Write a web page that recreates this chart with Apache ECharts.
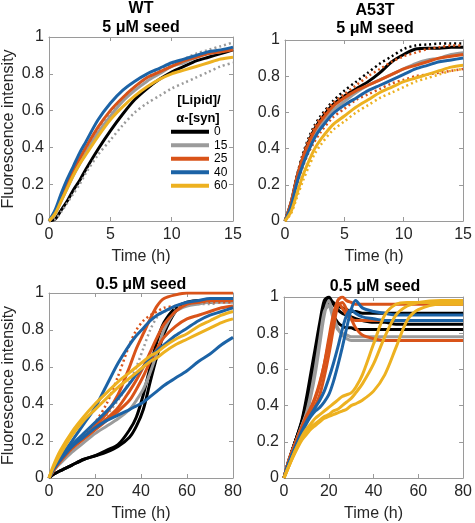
<!DOCTYPE html>
<html><head><meta charset="utf-8">
<script src="https://cdn.jsdelivr.net/npm/echarts@6/dist/echarts.min.js"></script>
<style>html,body{margin:0;padding:0;background:#fff}#c{width:475px;height:523px}</style>
</head><body><div id="c"></div>
<script>
// ---- categories / tick info ----
const legendNames = ['0', '15', '25', '40', '60'];
const yTicks = [0, 0.2, 0.4, 0.6, 0.8, 1];
const xTicksTop = [0, 5, 10, 15];
const xTicksBottom = [0, 20, 40, 60, 80];

// ---- WT, 5 uM seed (time in h) ----
const tTop = [0,0.5,1,1.5,2,2.5,3,4,5,6,7,8,9,10,11,12,13,14,15];
const wt5_0   = [0,0.01,0.06,0.11,0.17,0.22,0.28,0.39,0.49,0.58,0.66,0.72,0.77,0.81,0.84,0.87,0.89,0.91,0.93];
const wt5_15a = [0,0.04,0.11,0.18,0.25,0.31,0.37,0.48,0.57,0.65,0.71,0.76,0.80,0.84,0.86,0.89,0.91,0.92,0.94];
const wt5_15b = [0,0.04,0.12,0.20,0.27,0.33,0.39,0.50,0.59,0.67,0.73,0.78,0.82,0.85,0.88,0.91,0.93,0.95,0.97];
const wt5_15c = [0,0.01,0.05,0.10,0.15,0.20,0.26,0.36,0.44,0.52,0.59,0.64,0.68,0.72,0.75,0.78,0.81,0.84,0.86];
const wt5_25  = [0,0.05,0.13,0.21,0.28,0.34,0.40,0.51,0.60,0.67,0.73,0.78,0.81,0.84,0.87,0.89,0.91,0.92,0.93];
const wt5_40  = [0,0.06,0.15,0.23,0.30,0.37,0.43,0.55,0.64,0.71,0.76,0.80,0.83,0.86,0.88,0.90,0.92,0.93,0.945];
const wt5_60  = [0,0.04,0.11,0.18,0.25,0.31,0.36,0.46,0.55,0.62,0.68,0.73,0.77,0.80,0.82,0.84,0.86,0.88,0.89];

// ---- A53T, 5 uM seed ----
const a5_0    = [0,0.10,0.24,0.35,0.44,0.51,0.56,0.64,0.69,0.73,0.77,0.82,0.88,0.92,0.95,0.955,0.955,0.96,0.96];
const a5_0d   = [0,0.10,0.25,0.37,0.46,0.53,0.58,0.66,0.72,0.77,0.82,0.87,0.91,0.95,0.97,0.975,0.98,0.98,0.98];
const a5_15   = [0,0.09,0.22,0.33,0.41,0.48,0.53,0.61,0.66,0.71,0.75,0.78,0.81,0.84,0.87,0.89,0.90,0.92,0.93];
const a5_25   = [0,0.10,0.24,0.35,0.43,0.50,0.55,0.63,0.68,0.72,0.75,0.78,0.81,0.84,0.86,0.88,0.90,0.91,0.92];
const a5_25d1 = [0,0.10,0.24,0.36,0.45,0.52,0.57,0.65,0.70,0.75,0.80,0.84,0.88,0.91,0.93,0.95,0.96,0.97,0.97];
const a5_25d2 = [0,0.08,0.20,0.30,0.38,0.44,0.49,0.57,0.62,0.67,0.70,0.73,0.76,0.78,0.80,0.81,0.82,0.83,0.84];
const a5_40   = [0,0.08,0.21,0.31,0.39,0.46,0.51,0.59,0.64,0.68,0.72,0.75,0.78,0.81,0.84,0.86,0.88,0.89,0.90];
const a5_60   = [0,0.05,0.15,0.25,0.33,0.40,0.45,0.53,0.58,0.63,0.67,0.71,0.74,0.77,0.79,0.81,0.83,0.85,0.86];
const a5_60d  = [0,0.04,0.13,0.22,0.30,0.37,0.42,0.50,0.55,0.60,0.64,0.68,0.71,0.74,0.77,0.79,0.81,0.83,0.84];

// ---- WT, 0.5 uM seed ----
const tWT05 = [0,2,5,10,15,20,25,30,35,38,41,44,47,50,55,60,65,70,75,80];
const w05_0a  = [0,0.02,0.04,0.07,0.10,0.12,0.15,0.18,0.26,0.33,0.45,0.60,0.74,0.84,0.92,0.95,0.96,0.96,0.97,0.97];
const w05_0b  = [0,0.02,0.04,0.07,0.10,0.12,0.14,0.17,0.22,0.28,0.37,0.52,0.66,0.78,0.90,0.94,0.95,0.95,0.96,0.96];
const w05_15a = [0,0.04,0.08,0.14,0.19,0.24,0.28,0.32,0.37,0.42,0.48,0.57,0.68,0.80,0.90,0.93,0.94,0.95,0.95,0.95];
const w05_15b = [0,0.04,0.09,0.16,0.22,0.28,0.34,0.42,0.52,0.60,0.70,0.80,0.87,0.90,0.92,0.93,0.94,0.94,0.95,0.95];
const w05_25a = [0,0.05,0.10,0.17,0.22,0.28,0.35,0.45,0.60,0.70,0.78,0.86,0.93,0.97,0.99,1.00,1.00,1.00,1.00,1.00];
const w05_25b = [0,0.05,0.10,0.17,0.22,0.27,0.32,0.38,0.47,0.53,0.60,0.68,0.76,0.83,0.90,0.94,0.95,0.96,0.96,0.96];
const w05_25c = [0,0.04,0.09,0.16,0.21,0.26,0.31,0.36,0.42,0.48,0.55,0.63,0.70,0.76,0.82,0.86,0.88,0.90,0.92,0.93];
const w05_25d = [0,0.05,0.10,0.17,0.23,0.30,0.40,0.55,0.72,0.80,0.85,0.88,0.90,0.92,0.93,0.94,0.95,0.95,0.95,0.95];
const w05_40a = [0,0.05,0.10,0.17,0.22,0.27,0.31,0.34,0.37,0.39,0.41,0.44,0.47,0.50,0.54,0.58,0.63,0.67,0.72,0.76];
const w05_40b = [0,0.05,0.11,0.20,0.29,0.38,0.50,0.62,0.72,0.77,0.81,0.85,0.88,0.90,0.93,0.95,0.96,0.97,0.97,0.97];
const w05_40c = [0,0.05,0.10,0.18,0.24,0.30,0.36,0.43,0.51,0.56,0.60,0.65,0.69,0.72,0.77,0.81,0.85,0.88,0.90,0.92];
const w05_60a = [0,0.07,0.15,0.25,0.33,0.40,0.46,0.52,0.57,0.60,0.63,0.66,0.68,0.71,0.75,0.78,0.82,0.85,0.88,0.90];
const w05_60b = [0,0.06,0.13,0.23,0.31,0.37,0.43,0.49,0.54,0.57,0.60,0.63,0.65,0.68,0.72,0.75,0.78,0.81,0.84,0.86];

// ---- A53T, 0.5 uM seed ----
const tA05 = [0,2,5,8,10,12,14,16,18,20,22,24,26,28,30,32,35,40,45,50,55,60,70,80];
const a05_0a  = [0,0.09,0.20,0.32,0.44,0.58,0.72,0.86,0.98,1.00,0.96,0.93,0.91,0.90,0.89,0.88,0.87,0.86,0.86,0.85,0.85,0.85,0.85,0.85];
const a05_0b  = [0,0.09,0.20,0.31,0.42,0.55,0.69,0.83,0.95,0.97,0.90,0.86,0.84,0.83,0.83,0.82,0.82,0.82,0.82,0.82,0.82,0.82,0.82,0.82];
const a05_0c  = [0,0.09,0.20,0.31,0.41,0.54,0.68,0.82,0.94,0.99,0.97,0.95,0.94,0.93,0.92,0.92,0.91,0.91,0.91,0.91,0.91,0.91,0.91,0.91];
const a05_15a = [0,0.09,0.19,0.29,0.35,0.45,0.58,0.74,0.90,0.98,0.90,0.83,0.79,0.77,0.76,0.76,0.76,0.76,0.76,0.76,0.76,0.76,0.76,0.76];
const a05_15b = [0,0.09,0.19,0.29,0.36,0.47,0.61,0.77,0.92,0.95,0.88,0.82,0.80,0.79,0.78,0.78,0.78,0.78,0.78,0.78,0.78,0.78,0.78,0.78];
const a05_25a = [0,0.09,0.19,0.28,0.33,0.36,0.40,0.46,0.56,0.68,0.82,0.95,0.97,0.93,0.88,0.83,0.79,0.77,0.76,0.76,0.76,0.76,0.76,0.76];
const a05_25b = [0,0.09,0.19,0.28,0.34,0.38,0.44,0.52,0.63,0.77,0.90,0.97,0.94,0.90,0.88,0.87,0.87,0.87,0.87,0.87,0.87,0.87,0.87,0.87];
const a05_25c = [0,0.09,0.19,0.28,0.34,0.39,0.45,0.53,0.63,0.75,0.88,0.98,1.00,0.98,0.97,0.96,0.96,0.96,0.96,0.96,0.96,0.96,0.96,0.96];
const a05_40a = [0,0.08,0.17,0.25,0.30,0.34,0.37,0.39,0.42,0.46,0.53,0.62,0.72,0.83,0.93,0.98,0.94,0.92,0.91,0.90,0.90,0.90,0.90,0.90];
const a05_40b = [0,0.08,0.17,0.26,0.31,0.35,0.39,0.43,0.48,0.55,0.63,0.72,0.82,0.90,0.93,0.91,0.89,0.88,0.87,0.87,0.87,0.87,0.87,0.87];
const a05_60a = [0,0.06,0.15,0.22,0.25,0.28,0.30,0.32,0.34,0.35,0.37,0.38,0.40,0.42,0.44,0.47,0.52,0.63,0.78,0.90,0.95,0.97,0.98,0.98];
const a05_60b = [0,0.06,0.14,0.21,0.24,0.27,0.29,0.31,0.33,0.34,0.35,0.36,0.37,0.38,0.40,0.41,0.43,0.48,0.57,0.72,0.87,0.93,0.96,0.96];
const a05_60c = [0,0.06,0.15,0.23,0.27,0.30,0.33,0.35,0.37,0.39,0.41,0.43,0.45,0.46,0.47,0.50,0.57,0.74,0.90,0.96,0.97,0.97,0.97,0.97];

// ---- styling ----
const FONT = '"Liberation Sans", Arial, sans-serif';
const COLORS = {'0':'#000000','15':'#9b9b9b','25':'#d95319','40':'#1c63a6','60':'#edb120'};
const AX = '#9a9a9a';
const TXT = '#262626';

// traces: [panel, legend name, times, values, dotted]
const traces = [
  [0,'0',tTop,wt5_0,false],[0,'15',tTop,wt5_15a,false],[0,'15',tTop,wt5_15b,true],[0,'15',tTop,wt5_15c,true],
  [0,'25',tTop,wt5_25,false],[0,'40',tTop,wt5_40,false],[0,'60',tTop,wt5_60,false],
  [1,'0',tTop,a5_0,false],[1,'0',tTop,a5_0d,true],[1,'15',tTop,a5_15,false],[1,'25',tTop,a5_25,false],
  [1,'25',tTop,a5_25d1,true],[1,'25',tTop,a5_25d2,true],[1,'40',tTop,a5_40,false],[1,'60',tTop,a5_60,false],[1,'60',tTop,a5_60d,true],
  [2,'0',tWT05,w05_0a,false],[2,'0',tWT05,w05_0b,false],[2,'15',tWT05,w05_15a,false],[2,'15',tWT05,w05_15b,true],
  [2,'25',tWT05,w05_25a,false],[2,'25',tWT05,w05_25b,false],[2,'25',tWT05,w05_25c,false],[2,'25',tWT05,w05_25d,true],
  [2,'40',tWT05,w05_40a,false],[2,'40',tWT05,w05_40b,false],[2,'40',tWT05,w05_40c,false],
  [2,'60',tWT05,w05_60a,false],[2,'60',tWT05,w05_60b,false],
  [3,'0',tA05,a05_0a,false],[3,'0',tA05,a05_0b,false],[3,'0',tA05,a05_0c,false],
  [3,'15',tA05,a05_15a,false],[3,'15',tA05,a05_15b,false],
  [3,'25',tA05,a05_25a,false],[3,'25',tA05,a05_25b,false],[3,'25',tA05,a05_25c,false],
  [3,'40',tA05,a05_40a,false],[3,'40',tA05,a05_40b,false],
  [3,'60',tA05,a05_60a,false],[3,'60',tA05,a05_60b,false],[3,'60',tA05,a05_60c,false]
];

const grids = [
  {left:49, top:37, width:184, height:184},
  {left:285, top:40, width:181, height:181},
  {left:49, top:293, width:184, height:185},
  {left:284, top:297, width:182, height:181}
];
const xMax = [15, 15, 80, 80];
const xInt = [xTicksTop[1]-xTicksTop[0], xTicksTop[1]-xTicksTop[0], xTicksBottom[1]-xTicksBottom[0], xTicksBottom[1]-xTicksBottom[0]];

const xAxis = [], yAxis = [];
grids.forEach((g, i) => {
  xAxis.push({gridIndex:i, type:'value', min:0, max:xMax[i], interval:xInt[i], position:'bottom',
    axisLine:{show:true, onZero:false, lineStyle:{color:AX, width:1}},
    axisTick:{show:true, inside:true, length:4, lineStyle:{color:AX}},
    axisLabel:{fontSize:16, color:TXT, margin:6, fontFamily:FONT, showMaxLabel:true, showMinLabel:true},
    splitLine:{show:false},
    name:'Time (h)', nameLocation:'middle', nameGap:28,
    nameTextStyle:{fontSize:16, color:TXT, fontFamily:FONT}});
  xAxis.push({gridIndex:i, type:'value', min:0, max:xMax[i], interval:xInt[i], position:'top',
    axisLine:{show:true, onZero:false, lineStyle:{color:AX, width:1}},
    axisTick:{show:true, inside:true, length:4, lineStyle:{color:AX}},
    axisLabel:{show:false}, splitLine:{show:false}});
  const yl = {gridIndex:i, type:'value', min:yTicks[0], max:yTicks[yTicks.length-1], interval:yTicks[1]-yTicks[0], position:'left',
    axisLine:{show:true, onZero:false, lineStyle:{color:AX, width:1}},
    axisTick:{show:true, inside:true, length:4, lineStyle:{color:AX}},
    axisLabel:{fontSize:16, color:TXT, margin:5, fontFamily:FONT},
    splitLine:{show:false}};
  if (i % 2 === 0) {
    Object.assign(yl, {name:'Fluorescence intensity', nameLocation:'middle', nameGap:32, nameRotate:90,
      nameTextStyle:{fontSize:16, color:TXT, fontFamily:FONT}});
  }
  yAxis.push(yl);
  yAxis.push({gridIndex:i, type:'value', min:0, max:1, interval:0.2, position:'right',
    axisLine:{show:true, onZero:false, lineStyle:{color:AX, width:1}},
    axisTick:{show:true, inside:true, length:4, lineStyle:{color:AX}},
    axisLabel:{show:false}, splitLine:{show:false}});
});

const series = traces.map(([p, name, t, v, dotted]) => ({
  type:'line', name:name, xAxisIndex:2*p, yAxisIndex:2*p,
  data:t.map((x, k) => [x, v[k]]),
  showSymbol:false, smooth:0.3, silent:true, animation:false,
  itemStyle:{color:COLORS[name]},
  lineStyle:{color:COLORS[name], width:dotted ? 2.5 : 3, type:dotted ? [2,3] : 'solid'}
}));

const titleStyle = {fontSize:16, fontWeight:'bold', color:'#000', fontFamily:FONT, lineHeight:18};
const legTitleStyle = {fontSize:13, fontWeight:'bold', color:'#000', fontFamily:FONT, lineHeight:18};
function mkTitle(text, cx, cy, style) {
  return {text:text, left:cx, top:cy - 9, textAlign:'center', padding:0, textStyle:style};
}
const option = {
  animation:false,
  textStyle:{fontFamily:FONT},
  title:[
    mkTitle('WT', 141, 8.5, titleStyle),
    mkTitle('5 μM seed', 141, 27.5, titleStyle),
    mkTitle('A53T', 375, 11, titleStyle),
    mkTitle('5 μM seed', 375, 28.5, titleStyle),
    mkTitle('0.5 μM seed', 141, 285, titleStyle),
    mkTitle('0.5 μM seed', 375, 287, titleStyle),
    mkTitle('[Lipid]/', 199, 100, legTitleStyle),
    mkTitle('α-[syn]', 198, 118, legTitleStyle)
  ],
  legend:{data:legendNames, left:171, top:125, orient:'vertical', padding:0, itemGap:0,
    itemWidth:38, itemHeight:4, icon:'rect', selectedMode:false,
    textStyle:{fontSize:12, lineHeight:13.5, color:'#000', fontFamily:FONT}},
  grid:grids.map(g => Object.assign({containLabel:false}, g)),
  xAxis:xAxis, yAxis:yAxis, series:series
};
const chart = echarts.init(document.getElementById('c'), null, {renderer:'canvas'});
chart.setOption(option);
</script></body></html>
